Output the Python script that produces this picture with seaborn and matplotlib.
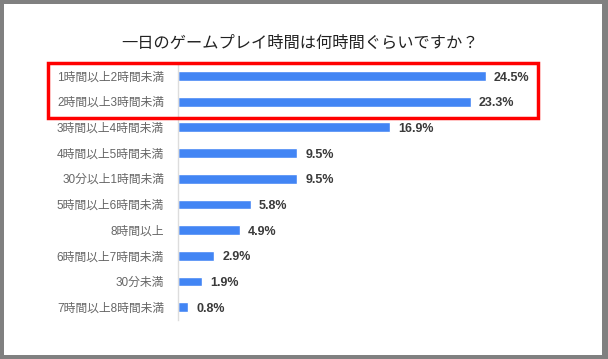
import matplotlib
matplotlib.use("Agg")
import matplotlib.pyplot as plt
import seaborn as sns
import pandas as pd
from matplotlib.patches import Rectangle

categories = ["1時間以上2時間未満", "2時間以上3時間未満", "3時間以上4時間未満", "4時間以上5時間未満",
              "30分以上1時間未満", "5時間以上6時間未満", "8時間以上", "6時間以上7時間未満",
              "30分未満", "7時間以上8時間未満"]
values = [24.5, 23.3, 16.9, 9.5, 9.5, 5.8, 4.9, 2.9, 1.9, 0.8]
title = "一日のゲームプレイ時間は何時間ぐらいですか？"

sns.set_style("white")
plt.rcParams['font.family'] = ['Liberation Sans', 'Noto Sans CJK JP', 'DejaVu Sans']

W, H = 608, 359
fig = plt.figure(figsize=(W / 100, H / 100), dpi=100, facecolor='#808080')
fig.patches.append(Rectangle((4 / W, 4 / H), (602 - 4) / W, (355 - 4) / H,
                             transform=fig.transFigure, facecolor='white',
                             edgecolor='none', zorder=-10))

ax_left, ax_right = 178, 555
ax_top, ax_bottom = 63.2, 319.9
ax = fig.add_axes([ax_left / W, 1 - ax_bottom / H, (ax_right - ax_left) / W, (ax_bottom - ax_top) / H])
ax.set_facecolor('none')

df = pd.DataFrame({"cat": categories, "val": values})
sns.barplot(data=df, x="val", y="cat", orient="h", color="#4285f4", saturation=1,
            width=0.38, ax=ax)

for i, v in enumerate(values):
    ax.text(v + 0.65, i, f"{v:.1f}%", va='center_baseline', ha='left', fontsize=9,
            fontweight='bold', color='#3a3a3a', family=['Liberation Sans', 'DejaVu Sans'])

ax.set_xlim(0, 30)
ax.set_ylim(9.5, -0.5)
ax.set_xlabel("")
ax.set_ylabel("")
ax.set_xticks([])
for s in ['top', 'right', 'bottom']:
    ax.spines[s].set_visible(False)
ax.spines['left'].set_color('#dddddd')
ax.spines['left'].set_linewidth(1)
ax.tick_params(axis='y', length=0, pad=10, labelsize=8.5, labelcolor='#666666')

fig.text(300 / W, 1 - 43 / H, title, ha='center', va='center', fontsize=11.7,
         color='#222222', family=['Noto Sans CJK JP', 'DejaVu Sans'])

fig.patches.append(Rectangle((48 / W, 1 - 118 / H), (538 - 48) / W, (118 - 63) / H,
                             transform=fig.transFigure, facecolor='none',
                             edgecolor='#ff0000', linewidth=2.5, zorder=5))

fig.savefig("out.png", dpi=100, facecolor=fig.get_facecolor())
